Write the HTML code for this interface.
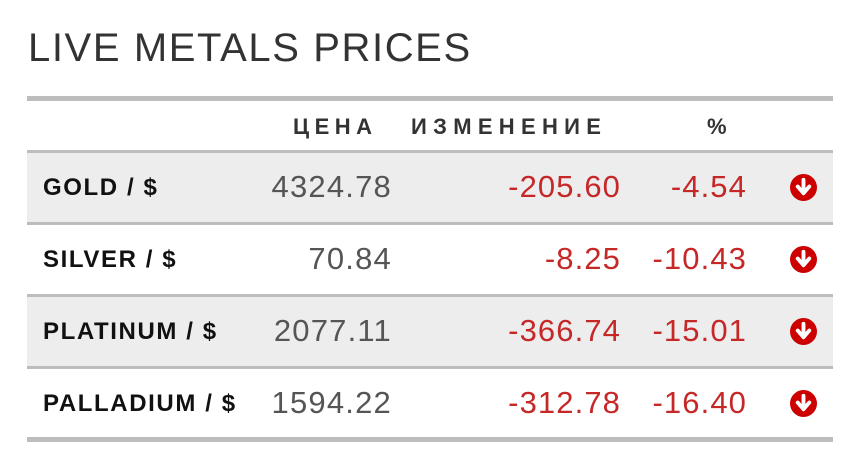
<!DOCTYPE html>
<html><head><meta charset="utf-8"><style>
body{margin:0;width:862px;height:474px;background:#fff;font-family:"Liberation Sans",sans-serif;position:relative;overflow:hidden}
.t{position:absolute;left:28px;top:26px;font-size:40px;color:#333;letter-spacing:1.6px;font-weight:normal}
.bar{position:absolute;left:27px;width:806px;background:#bdbdbd}
.row{position:absolute;left:27px;width:806px;height:69px}
.g{background:#ededed}
.n{position:absolute;left:16px;font-weight:bold;font-size:24px;color:#111;top:21px;letter-spacing:1.6px}
.p{position:absolute;right:441px;font-size:31px;color:#555;top:16px;letter-spacing:1.2px}
.c{position:absolute;right:212px;font-size:31px;color:#c62828;top:16px;letter-spacing:1.1px}
.q{position:absolute;right:86px;font-size:31px;color:#c62828;top:16px;letter-spacing:1.1px}
.i{position:absolute;left:763px;top:21px;width:27px;height:27px}
.h{position:absolute;top:114px;font-size:22px;font-weight:bold;color:#333;letter-spacing:5.5px}
</style></head><body>
<div class="t">LIVE METALS PRICES</div>
<div class="bar" style="top:96px;height:5px"></div>
<div class="h" style="left:293px">ЦЕНА</div>
<div class="h" style="left:411px;letter-spacing:6.3px">ИЗМЕНЕНИЕ</div>
<div class="h" style="left:707px">%</div>
<div class="bar" style="top:150px;height:3px"></div>
<div class="row g" style="top:153px"><span class="n">GOLD / $</span><span class="p">4324.78</span><span class="c">-205.60</span><span class="q">-4.54</span><svg class="i" viewBox="0 0 28 28"><circle cx="14" cy="14" r="14" fill="#c00"/><path d="M14 6v13M8 13l6 7 6-7" stroke="#fff" stroke-width="4" fill="none" stroke-linecap="round" stroke-linejoin="round"/></svg></div>
<div class="bar" style="top:222px;height:3px"></div>
<div class="row" style="top:225px"><span class="n">SILVER / $</span><span class="p">70.84</span><span class="c">-8.25</span><span class="q">-10.43</span><svg class="i" viewBox="0 0 28 28"><circle cx="14" cy="14" r="14" fill="#c00"/><path d="M14 6v13M8 13l6 7 6-7" stroke="#fff" stroke-width="4" fill="none" stroke-linecap="round" stroke-linejoin="round"/></svg></div>
<div class="bar" style="top:294px;height:3px"></div>
<div class="row g" style="top:297px"><span class="n">PLATINUM / $</span><span class="p">2077.11</span><span class="c">-366.74</span><span class="q">-15.01</span><svg class="i" viewBox="0 0 28 28"><circle cx="14" cy="14" r="14" fill="#c00"/><path d="M14 6v13M8 13l6 7 6-7" stroke="#fff" stroke-width="4" fill="none" stroke-linecap="round" stroke-linejoin="round"/></svg></div>
<div class="bar" style="top:366px;height:3px"></div>
<div class="row" style="top:369px"><span class="n">PALLADIUM / $</span><span class="p">1594.22</span><span class="c">-312.78</span><span class="q">-16.40</span><svg class="i" viewBox="0 0 28 28"><circle cx="14" cy="14" r="14" fill="#c00"/><path d="M14 6v13M8 13l6 7 6-7" stroke="#fff" stroke-width="4" fill="none" stroke-linecap="round" stroke-linejoin="round"/></svg></div>
<div class="bar" style="top:437px;height:5px"></div>
</body></html>
